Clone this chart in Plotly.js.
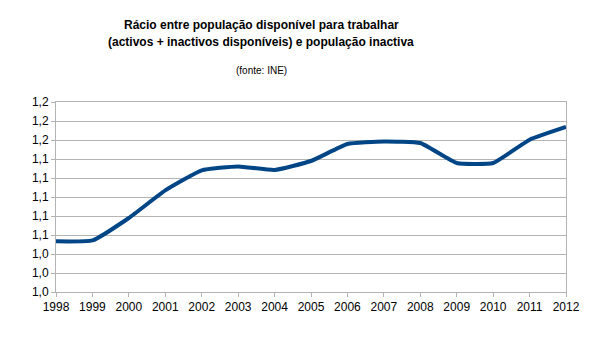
<!DOCTYPE html>
<html><head><meta charset="utf-8">
<script src="https://cdn.plot.ly/plotly-3.0.1.min.js"></script>
<style>body{margin:0;background:#fff}#chart{width:605px;height:340px}</style>
</head><body><div id="chart"></div>
<script>
var years = [1998,1999,2000,2001,2002,2003,2004,2005,2006,2007,2008,2009,2010,2011,2012];
var ratio = [1.0533,1.0543,1.0779,1.1069,1.1280,1.1322,1.1284,1.1379,1.1558,1.1585,1.1568,1.1358,1.1358,1.1603,1.1737];
var titleLine1 = "Rácio entre população disponível para trabalhar";
var titleLine2 = "(activos + inactivos disponíveis) e população inactiva";
var subtitle = "(fonte: INE)";

var font = "Liberation Sans, Arial, sans-serif";
var trace = {x: years, y: ratio, type: 'scatter', mode: 'lines',
  line: {color: '#004586', width: 4, shape: 'spline', smoothing: 0.4}, hoverinfo: 'none'};
var layout = {
  width: 605, height: 340, separators: ',.',
  margin: {l: 56, r: 39, t: 102, b: 48},
  paper_bgcolor: '#fff', plot_bgcolor: '#fff',
  showlegend: false,
  font: {family: font, size: 12, color: '#000'},
  xaxis: {range: [1998, 2012], dtick: 1, tick0: 1998, showgrid: false, zeroline: false,
    showline: true, linecolor: '#b3b3b3', linewidth: 1, mirror: true,
    ticks: 'outside', ticklen: 4, tickcolor: '#b3b3b3', tickfont: {family: font, size: 12}},
  yaxis: {range: [1.0, 1.2], dtick: 0.02, tick0: 1.0, tickformat: '.1f', showgrid: true,
    gridcolor: '#b3b3b3', gridwidth: 1, zeroline: false,
    showline: true, linecolor: '#b3b3b3', linewidth: 1, mirror: true,
    ticks: 'outside', ticklen: 4, tickcolor: '#b3b3b3', tickfont: {family: font, size: 12}},
  annotations: [
    {text: titleLine1, xref: 'paper', yref: 'paper', x: 0.402, y: (292.3-25)/190, xanchor: 'center', yanchor: 'middle', showarrow: false, font: {family: font, size: 12, color: '#000', weight: 'bold'}},
    {text: titleLine2, xref: 'paper', yref: 'paper', x: 0.402, y: (292.3-42)/190, xanchor: 'center', yanchor: 'middle', showarrow: false, font: {family: font, size: 12, color: '#000', weight: 'bold'}},
    {text: subtitle, xref: 'paper', yref: 'paper', x: 0.402, y: (292.3-71)/190, xanchor: 'center', yanchor: 'middle', showarrow: false, font: {family: font, size: 10, color: '#000'}}
  ]
};
Plotly.newPlot('chart', [trace], layout, {staticPlot: true, displayModeBar: false});
</script></body></html>
